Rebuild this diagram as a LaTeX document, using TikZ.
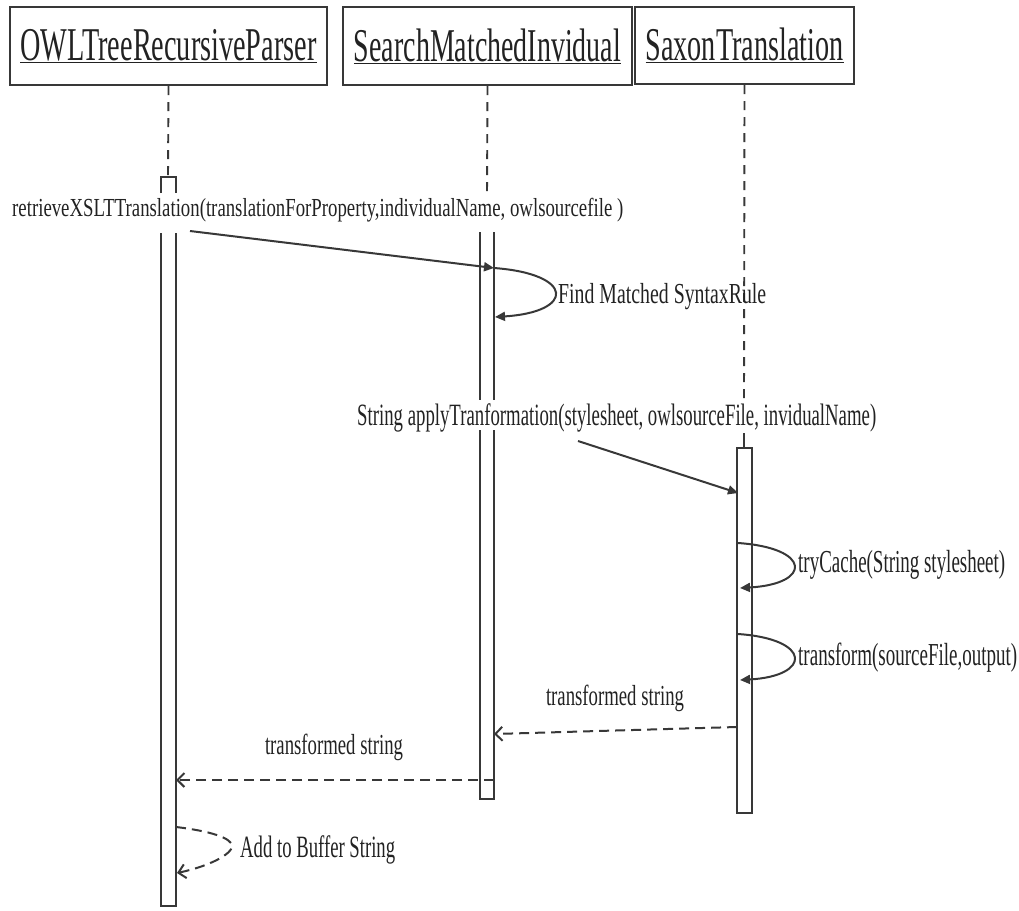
\documentclass[tikz,border=0pt]{standalone}
\usepackage{fontspec}
\setmainfont{Liberation Serif}
\usetikzlibrary{arrows.meta}
\definecolor{linec}{HTML}{383838}
\definecolor{textc}{HTML}{222222}
% condensed text: set at a given size, then squeeze to a given width
\newcommand\fittext[3]{\resizebox{#1}{\height}{\fontsize{#2}{#2}\selectfont #3}}
\tikzset{
  ln/.style={draw=linec, line width=1.9pt},
  hdrbox/.style={ln, line width=2.3pt, inner sep=0pt, text=textc},
  life/.style={ln, dash pattern=on 9pt off 7pt},
  actbar/.style={ln, fill=white},
  call/.style={ln, line width=2pt, -{Triangle[length=10pt,width=9pt]}},
  ret/.style={ln, line width=2pt, dash pattern=on 10pt off 6pt, -{Straight Barb[length=7pt,width=14pt]}},
  lbl/.style={inner sep=0pt, text=textc},
}
\begin{document}
\begin{tikzpicture}[x=1pt,y=-1pt]
\useasboundingbox (0,0) rectangle (1019,910);

% object headers
\node[hdrbox, minimum width=317pt, minimum height=78pt] (owl) at (168.5,46)
  {\fittext{296pt}{47}{\underline{OWLTreeRecursiveParser}}};
\node[hdrbox, minimum width=289pt, minimum height=78pt] (smi) at (487.5,46)
  {\fittext{267pt}{47}{\underline{SearchMatchedInvidual}}};
\node[hdrbox, minimum width=219pt, minimum height=77pt] (sax) at (744.5,45.5)
  {\fittext{198pt}{47}{\underline{SaxonTranslation}}};

% lifelines
\coordinate (owlTop) at (168,177);
\coordinate (smiCut) at (487,196);
\coordinate (saxCut) at (744,400);
\coordinate (saxTick) at (744,433);
\coordinate (saxTop) at (744,448);
\draw[life] (owl.south) -- (owlTop);
\draw[life] (smi.south) -- (smiCut);
\draw[life] (sax.south) -- (saxCut);
\draw[ln] (saxTick) -- (saxTop);

% activation bars (broken where a label crosses them)
\draw[actbar] (161,193) -- (161,177) -- (176,177) -- (176,193);
\draw[actbar] (161,233) -- (161,906) -- (176,906) -- (176,233);
\draw[ln] (480,232) -- (480,400) (494,232) -- (494,400);
\draw[actbar] (480,430) -- (480,799) -- (494,799) -- (494,430);
\draw[actbar] (737,448) rectangle (752,813);

% labels
\node[lbl, anchor=base west] (lRetrieve) at (12,216)
  {\fittext{611pt}{26}{retrieveXSLTTranslation(translationForProperty,individualName, owlsourcefile )}};
\node[lbl, anchor=west] (lFind) at (558,297)
  {\fittext{208pt}{29}{Find Matched SyntaxRule}};
\node[lbl, anchor=base west] (lApply) at (357,425)
  {\fittext{519pt}{31}{String applyTranformation(stylesheet, owlsourceFile, invidualName)}};
\node[lbl, anchor=west] (lCache) at (798,565)
  {\fittext{207pt}{32}{tryCache(String stylesheet)}};
\node[lbl, anchor=west] (lTransform) at (798,658)
  {\fittext{219pt}{32}{transform(sourceFile,output)}};
\node[lbl] (lRet1) at (615,698)
  {\fittext{138pt}{29}{transformed string}};
\node[lbl] (lRet2) at (334,747)
  {\fittext{138pt}{29}{transformed string}};
\node[lbl, anchor=west] (lBuffer) at (240,850)
  {\fittext{155pt}{31}{Add to Buffer String}};

% message end points
\coordinate (m1s) at (190,231);
\coordinate (m1e) at (494,268);
\coordinate (f1e) at (495,317);
\coordinate (m2s) at (578,441);
\coordinate (m2e) at (738,493);
\coordinate (c1s) at (738,543);
\coordinate (c1e) at (740,588);
\coordinate (t1s) at (738,634);
\coordinate (t1e) at (740,680);
\coordinate (r1s) at (737,727);
\coordinate (r1e) at (494,734);
\coordinate (r2s) at (494,780);
\coordinate (r2e) at (176,780);
\coordinate (b1s) at (176,827);
\coordinate (b1e) at (177,873);

% messages
\draw[call] (m1s) -- (m1e);
\draw[call] (m1e) .. controls (575,274) and (575,312) .. (f1e);
\draw[call] (m2s) -- (m2e);
\draw[call] (c1s) .. controls (812,548) and (812,584) .. (c1e);
\draw[call] (t1s) .. controls (812,639) and (812,676) .. (t1e);
\draw[ret] (r1s) -- (r1e);
\draw[ret] (r2s) -- (r2e);
\draw[ret] (b1s) .. controls (210,831) and (232,838) .. (232,846)
  .. controls (232,854) and (210,866) .. (b1e);
\end{tikzpicture}
\end{document}
